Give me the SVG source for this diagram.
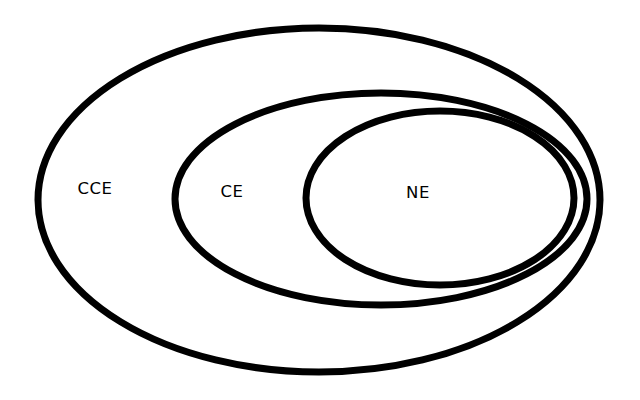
<svg xmlns="http://www.w3.org/2000/svg" width="640" height="400" viewBox="0 0 640 400">
<style>
.set{fill:none;stroke:#000;stroke-width:7}
.lbl{font-family:"DejaVu Sans",sans-serif;font-size:16.5px;letter-spacing:0.5px;text-anchor:middle;fill:#000}
</style>
<rect width="640" height="400" fill="#fff"/>
<g id="CCE"><ellipse class="set" cx="319" cy="200" rx="281" ry="172"/><text class="lbl" x="95" y="194">CCE</text></g>
<g id="CE"><ellipse class="set" cx="381" cy="199" rx="206" ry="106"/><text class="lbl" x="232" y="197">CE</text></g>
<g id="NE"><ellipse class="set" cx="440" cy="198" rx="134" ry="87"/><text class="lbl" x="418" y="198">NE</text></g>
</svg>
